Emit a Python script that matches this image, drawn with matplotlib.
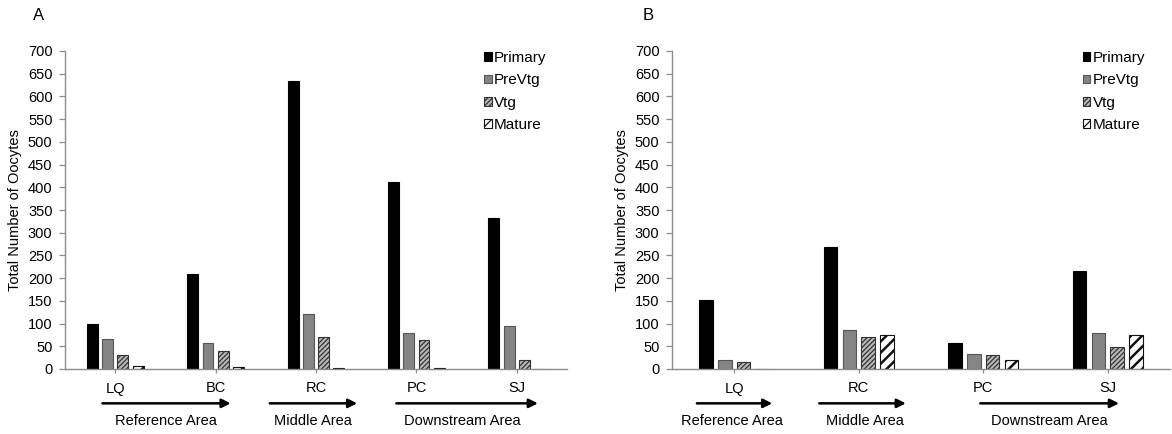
import matplotlib
matplotlib.use("Agg")
import matplotlib.pyplot as plt
from matplotlib.patches import Patch
import numpy as np

plt.rcParams['font.family'] = ['Liberation Sans', 'DejaVu Sans']
plt.rcParams['hatch.linewidth'] = 0.9

series = ["Primary", "PreVtg", "Vtg", "Mature"]

sites_a = ["LQ", "BC", "RC", "PC", "SJ"]
primary_a = [100, 210, 633, 412, 332]
prevtg_a = [66, 57, 122, 80, 94]
vtg_a = [31, 40, 71, 63, 19]
mature_a = [6, 5, 3, 2, 0]

sites_b = ["LQ", "RC", "PC", "SJ"]
primary_b = [152, 268, 58, 216]
prevtg_b = [20, 85, 34, 80]
vtg_b = [15, 71, 31, 48]
mature_b = [0, 75, 20, 75]

yticks = list(range(0, 701, 50))

styles = [
    dict(facecolor="black", edgecolor="black", hatch=None, hlw=0.9),
    dict(facecolor="#858585", edgecolor="#555555", hatch=None, hlw=0.9),
    dict(facecolor="#b8b8b8", edgecolor="#333333", hatch="///////", hlw=0.9),
    dict(facecolor="white", edgecolor="#111111", hatch="///", hlw=1.8),
]

W, H = 1172, 434
fig = plt.figure(figsize=(W / 100, H / 100), dpi=100)


def px_axes(x0, x1, ybot, ytop):
    return fig.add_axes([x0 / W, (H - ybot) / H, (x1 - x0) / W, (ybot - ytop) / H])


def make_patch(st):
    with plt.rc_context({"hatch.linewidth": st["hlw"]}):
        p = Patch(facecolor=st["facecolor"], edgecolor=st["edgecolor"],
                  hatch=st["hatch"], linewidth=0.8)
    return p


def draw_panel(ax, sites, data, letter, arrows, labels, leg_x, ylabel_x, label_x_px):
    n = len(sites)
    x = np.arange(n)
    bw = 0.108
    step = 0.152
    offs = (np.arange(4) - 1.5) * step
    for i, vals in enumerate(data):
        st = styles[i]
        with plt.rc_context({"hatch.linewidth": st["hlw"]}):
            bars = ax.bar(x + offs[i], vals, width=bw, facecolor=st["facecolor"],
                          edgecolor=st["edgecolor"], hatch=st["hatch"], linewidth=0.8)
        for b in bars:
            if hasattr(b, "set_hatch_linewidth"):
                b.set_hatch_linewidth(st["hlw"])
    ax.set_xlim(-0.5, n - 0.5)
    ax.set_ylim(0, 700)
    ax.set_yticks(yticks)
    ax.set_xticks(x)
    ax.set_xticklabels(sites)
    for s in ["top", "right"]:
        ax.spines[s].set_visible(False)
    for s in ["left", "bottom"]:
        ax.spines[s].set_color("#8c8c8c")
        ax.spines[s].set_linewidth(1.0)
    ax.tick_params(axis="y", length=4, width=0.9, color="#8c8c8c", labelsize=10.5, pad=5)
    ax.tick_params(axis="x", length=3, width=0.9, color="#8c8c8c", labelsize=10.5, pad=6)
    ax.set_ylabel("Total Number of Oocytes", fontsize=10.5)
    ax.yaxis.set_label_coords(ylabel_x, 0.5)
    trans = ax.get_xaxis_transform()
    for (xa, xb) in arrows:
        ax.annotate("", xy=(xb, -0.108), xytext=(xa, -0.108), xycoords=trans,
                    textcoords=trans, annotation_clip=False,
                    arrowprops=dict(arrowstyle="-|>", lw=1.8, color="black",
                                    mutation_scale=13, shrinkA=0, shrinkB=0))
    for (xc, txt) in labels:
        ax.text(xc, -0.163, txt, transform=trans, ha="center", va="center", fontsize=10.5)
    handles = []
    for st in styles:
        p = make_patch(st)
        if hasattr(p, "set_hatch_linewidth"):
            p.set_hatch_linewidth(st["hlw"])
        handles.append(p)
    ax.legend(handles, series, loc="upper left", bbox_to_anchor=(leg_x, 1.0),
              frameon=False, fontsize=11, handlelength=0.5, handleheight=0.5,
              handletextpad=0.15, labelspacing=0.55, borderpad=0, borderaxespad=0)
    fig.text(label_x_px / W, 1 - 15 / H, letter, fontsize=12, ha="left", va="center")


axA = px_axes(65, 567, 369, 51)
draw_panel(axA, sites_a, [primary_a, prevtg_a, vtg_a, mature_a], "A",
           arrows=[(-0.127, 1.15), (1.54, 2.41), (2.80, 4.21)],
           labels=[(0.51, "Reference Area"), (1.97, "Middle Area"), (3.46, "Downstream Area")],
           leg_x=0.835, ylabel_x=-0.085, label_x_px=33)

axB = px_axes(672, 1170, 369, 51)
draw_panel(axB, sites_b, [primary_b, prevtg_b, vtg_b, mature_b], "B",
           arrows=[(-0.30, 0.305), (0.683, 1.378), (1.976, 3.09)],
           labels=[(-0.016, "Reference Area"), (1.05, "Middle Area"), (2.53, "Downstream Area")],
           leg_x=0.825, ylabel_x=-0.086, label_x_px=643)

fig.savefig("out.png", dpi=100)
